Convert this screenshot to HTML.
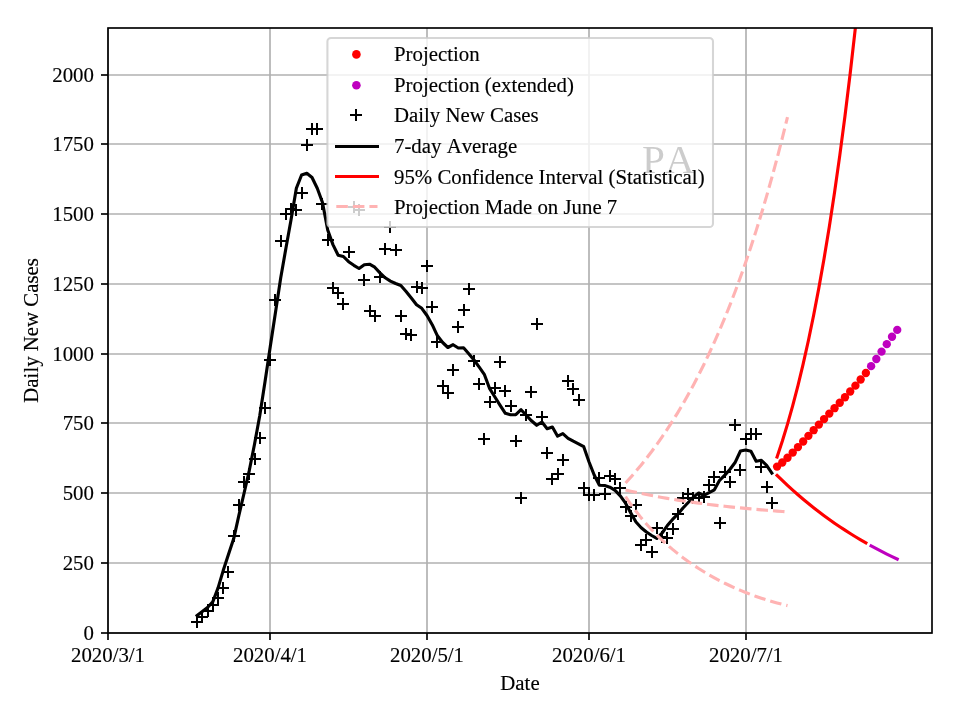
<!DOCTYPE html>
<html><head><meta charset="utf-8"><title>PA Daily New Cases</title>
<style>html,body{margin:0;padding:0;background:#fff;}svg{display:block;will-change:transform;}text{font-family:"Liberation Serif",serif;font-size:20.83px;fill:#000;stroke:#000;stroke-width:0.15px;font-kerning:none;font-variant-ligatures:none;}</style>
</head><body>
<svg width="960" height="720" viewBox="0 0 960 720">
<rect x="0" y="0" width="960" height="720" fill="#ffffff"/>
<defs><clipPath id="ax"><rect x="108.00" y="28.00" width="824.00" height="605.00"/></clipPath></defs>
<g stroke="#b0b0b0" stroke-width="1.67" fill="none">
<line x1="108.00" y1="28.00" x2="108.00" y2="633.00"/>
<line x1="270.00" y1="28.00" x2="270.00" y2="633.00"/>
<line x1="427.00" y1="28.00" x2="427.00" y2="633.00"/>
<line x1="589.00" y1="28.00" x2="589.00" y2="633.00"/>
<line x1="746.00" y1="28.00" x2="746.00" y2="633.00"/>
<line x1="108.00" y1="633.00" x2="932.00" y2="633.00"/>
<line x1="108.00" y1="563.00" x2="932.00" y2="563.00"/>
<line x1="108.00" y1="493.00" x2="932.00" y2="493.00"/>
<line x1="108.00" y1="423.00" x2="932.00" y2="423.00"/>
<line x1="108.00" y1="354.00" x2="932.00" y2="354.00"/>
<line x1="108.00" y1="284.00" x2="932.00" y2="284.00"/>
<line x1="108.00" y1="214.00" x2="932.00" y2="214.00"/>
<line x1="108.00" y1="144.00" x2="932.00" y2="144.00"/>
<line x1="108.00" y1="75.00" x2="932.00" y2="75.00"/>
</g>
<g clip-path="url(#ax)">
<!--PLOT-->
<circle cx="777.06" cy="466.59" r="4.17" fill="#ff0000"/>
<circle cx="782.28" cy="462.48" r="4.17" fill="#ff0000"/>
<circle cx="787.51" cy="457.75" r="4.17" fill="#ff0000"/>
<circle cx="792.73" cy="452.57" r="4.17" fill="#ff0000"/>
<circle cx="797.96" cy="447.11" r="4.17" fill="#ff0000"/>
<circle cx="803.18" cy="441.50" r="4.17" fill="#ff0000"/>
<circle cx="808.41" cy="435.84" r="4.17" fill="#ff0000"/>
<circle cx="813.63" cy="430.18" r="4.17" fill="#ff0000"/>
<circle cx="818.86" cy="424.59" r="4.17" fill="#ff0000"/>
<circle cx="824.08" cy="419.07" r="4.17" fill="#ff0000"/>
<circle cx="829.31" cy="413.62" r="4.17" fill="#ff0000"/>
<circle cx="834.53" cy="408.19" r="4.17" fill="#ff0000"/>
<circle cx="839.76" cy="402.75" r="4.17" fill="#ff0000"/>
<circle cx="844.98" cy="397.22" r="4.17" fill="#ff0000"/>
<circle cx="850.21" cy="391.54" r="4.17" fill="#ff0000"/>
<circle cx="855.43" cy="385.65" r="4.17" fill="#ff0000"/>
<circle cx="860.66" cy="379.48" r="4.17" fill="#ff0000"/>
<circle cx="865.88" cy="372.98" r="4.17" fill="#ff0000"/>
<circle cx="871.11" cy="366.15" r="4.17" fill="#bf00bf"/>
<circle cx="876.33" cy="359.01" r="4.17" fill="#bf00bf"/>
<circle cx="881.56" cy="351.62" r="4.17" fill="#bf00bf"/>
<circle cx="886.78" cy="344.14" r="4.17" fill="#bf00bf"/>
<circle cx="892.01" cy="336.78" r="4.17" fill="#bf00bf"/>
<circle cx="897.23" cy="329.88" r="4.17" fill="#bf00bf"/>
<path d="M191 622h12M197 616v12M196 617h12M202 611v12M202 611h12M208 605v12M207 605h12M213 599v12M212 598h12M218 592v12M217 588h12M223 582v12M222 572h12M228 566v12M228 536h12M234 530v12M233 505h12M239 499v12M238 482h12M244 476v12M243 474h12M249 468v12M249 459h12M255 453v12M254 438h12M260 432v12M259 408h12M265 402v12M264 360h12M270 354v12M269 300h12M275 294v12M275 241h12M281 235v12M280 214h12M286 208v12M285 209h12M291 203v12M290 210h12M296 204v12M296 193h12M302 187v12M301 145h12M307 139v12M306 129h12M312 123v12M311 129h12M317 123v12M316 204h12M322 198v12M322 240h12M328 234v12M327 288h12M333 282v12M332 293h12M338 287v12M337 304h12M343 298v12M343 252h12M349 246v12M348 207h12M354 201v12M353 210h12M359 204v12M358 280h12M364 274v12M364 311h12M370 305v12M369 316h12M375 310v12M374 277h12M380 271v12M379 249h12M385 243v12M384 227h12M390 221v12M390 250h12M396 244v12M395 316h12M401 310v12M400 334h12M406 328v12M405 335h12M411 329v12M411 287h12M417 281v12M416 288h12M422 282v12M421 266h12M427 260v12M426 307h12M432 301v12M431 342h12M437 336v12M437 386h12M443 380v12M442 393h12M448 387v12M447 370h12M453 364v12M452 327h12M458 321v12M458 310h12M464 304v12M463 289h12M469 283v12M468 361h12M474 355v12M473 384h12M479 378v12M478 439h12M484 433v12M484 402h12M490 396v12M489 388h12M495 382v12M494 362h12M500 356v12M499 391h12M505 385v12M505 406h12M511 400v12M510 441h12M516 435v12M515 498h12M521 492v12M520 415h12M526 409v12M525 392h12M531 386v12M531 324h12M537 318v12M536 417h12M542 411v12M541 453h12M547 447v12M546 479h12M552 473v12M552 474h12M558 468v12M557 460h12M563 454v12M562 381h12M568 375v12M567 389h12M573 383v12M573 400h12M579 394v12M578 488h12M584 482v12M583 495h12M589 489v12M588 495h12M594 489v12M593 478h12M599 472v12M599 494h12M605 488v12M604 476h12M610 470v12M609 479h12M615 473v12M614 488h12M620 482v12M620 507h12M626 501v12M625 516h12M631 510v12M630 505h12M636 499v12M635 545h12M641 539v12M640 540h12M646 534v12M646 552h12M652 546v12M651 528h12M657 522v12M656 537h12M662 531v12M661 538h12M667 532v12M667 529h12M673 523v12M672 514h12M678 508v12M677 498h12M683 492v12M682 494h12M688 488v12M687 498h12M693 492v12M693 498h12M699 492v12M698 497h12M704 491v12M703 485h12M709 479v12M708 477h12M714 471v12M714 523h12M720 517v12M719 472h12M725 466v12M724 482h12M730 476v12M729 425h12M735 419v12M734 470h12M740 464v12M740 439h12M746 433v12M745 434h12M751 428v12M750 434h12M756 428v12M755 467h12M761 461v12M761 487h12M767 481v12M766 503h12M772 497v12" stroke="#000" stroke-width="2" fill="none" shape-rendering="crispEdges"/>
<polyline points="197.08,615.50 202.31,611.50 207.53,607.50 212.76,601.90 217.99,588.10 223.21,570.60 228.44,554.40 233.66,538.80 238.88,515.30 244.11,493.00 249.33,470.30 254.56,444.00 259.78,415.50 265.01,381.70 270.24,346.70 275.46,312.50 280.69,278.00 285.91,248.30 291.13,219.20 296.36,188.30 301.58,175.00 306.81,173.20 312.03,177.50 317.26,188.30 322.49,202.50 327.71,230.00 332.94,244.60 338.16,255.20 343.38,256.50 348.61,261.70 353.83,265.30 359.06,268.50 364.28,264.70 369.51,264.20 374.73,267.20 379.96,272.90 385.18,277.80 390.41,281.10 395.63,283.50 400.86,285.50 406.08,291.50 411.31,298.00 416.53,304.70 421.76,308.30 426.98,315.50 432.21,324.70 437.43,335.80 442.66,342.50 447.88,347.50 453.11,344.70 458.33,348.00 463.56,347.70 468.78,353.70 474.01,360.00 479.23,367.20 484.46,374.70 489.68,388.70 494.91,397.00 500.13,405.30 505.36,413.30 510.58,414.70 515.81,414.70 521.03,409.70 526.26,415.30 531.49,420.80 536.71,425.30 541.93,422.00 547.16,428.70 552.38,427.00 557.61,436.20 562.84,433.70 568.06,438.30 573.28,441.20 578.51,443.80 583.74,446.70 588.96,461.70 594.18,475.00 599.41,485.30 604.63,485.50 609.86,487.20 615.09,490.30 620.31,495.80 625.53,503.20 630.76,512.90 635.98,522.00 641.21,527.70 646.43,532.00 651.66,535.50 656.88,538.40 662.11,533.00 667.33,525.60 672.56,519.40 677.78,514.20 683.01,508.00 688.23,502.50 693.46,497.00 698.68,493.00 703.91,495.40 709.13,492.70 714.36,489.80 719.58,480.30 724.81,475.20 730.03,469.20 735.26,462.20 740.48,451.00 745.71,450.00 750.93,451.30 756.16,461.30 761.38,460.30 766.61,465.30 771.83,473.00" stroke="#000" stroke-width="3.125" fill="none" stroke-linejoin="round" stroke-linecap="square"/>
<polyline points="777.06,457.02 782.28,441.23 787.51,424.12 792.73,405.60 797.96,385.56 803.18,363.90 808.41,340.49 813.63,315.20 818.86,287.91 824.08,258.46 829.31,226.71 834.53,192.49 839.76,155.64 844.98,115.96 850.21,73.28 855.43,27.39 860.66,-21.93 865.88,-74.90" stroke="#ff0000" stroke-width="3.125" fill="none" stroke-linejoin="round" stroke-linecap="square"/>
<polyline points="777.06,475.41 782.28,480.48 787.51,485.39 792.73,490.15 797.96,494.75 803.18,499.21 808.41,503.53 813.63,507.71 818.86,511.76 824.08,515.68 829.31,519.48 834.53,523.16 839.76,526.71 844.98,530.16 850.21,533.50 855.43,536.72 860.66,539.85 865.88,542.88" stroke="#ff0000" stroke-width="3.125" fill="none" stroke-linejoin="round" stroke-linecap="square"/>
<polyline points="871.11,545.81 876.33,548.64 881.56,551.39 886.78,554.05 892.01,556.62 897.23,559.11" stroke="#bf00bf" stroke-width="3.125" fill="none" stroke-linejoin="round" stroke-linecap="square"/>
<polyline points="625.53,483.04 630.76,477.24 635.98,471.20 641.21,464.89 646.43,458.32 651.66,451.48 656.88,444.33 662.11,436.89 667.33,429.12 672.56,421.02 677.78,412.56 683.01,403.75 688.23,394.54 693.46,384.94 698.68,374.92 703.91,364.46 709.13,353.54 714.36,342.13 719.58,330.23 724.81,317.80 730.03,304.81 735.26,291.25 740.48,277.08 745.71,262.28 750.93,246.81 756.16,230.64 761.38,213.75 766.61,196.09 771.83,177.63 777.06,158.33 782.28,138.15 787.51,117.05" stroke="#ffb3b3" stroke-width="3.125" fill="none" stroke-linejoin="round" stroke-dasharray="11.56 5"/>
<polyline points="625.53,489.95 630.76,491.16 635.98,492.33 641.21,493.44 646.43,494.51 651.66,495.54 656.88,496.53 662.11,497.48 667.33,498.39 672.56,499.26 677.78,500.10 683.01,500.90 688.23,501.67 693.46,502.42 698.68,503.13 703.91,503.81 709.13,504.47 714.36,505.10 719.58,505.71 724.81,506.29 730.03,506.85 735.26,507.40 740.48,507.92 745.71,508.42 750.93,508.90 756.16,509.37 761.38,509.82 766.61,510.26 771.83,510.68 777.06,511.09 782.28,511.49 787.51,511.88" stroke="#ffb3b3" stroke-width="3.125" fill="none" stroke-linejoin="round" stroke-dasharray="11.56 5"/>
<polyline points="625.53,496.64 630.76,504.26 635.98,511.31 641.21,517.88 646.43,523.99 651.66,529.72 656.88,535.09 662.11,540.13 667.33,544.89 672.56,549.38 677.78,553.63 683.01,557.65 688.23,561.46 693.46,565.08 698.68,568.51 703.91,571.77 709.13,574.87 714.36,577.81 719.58,580.60 724.81,583.26 730.03,585.77 735.26,588.15 740.48,590.41 745.71,592.54 750.93,594.56 756.16,596.46 761.38,598.24 766.61,599.92 771.83,601.50 777.06,602.97 782.28,604.35 787.51,605.63" stroke="#ffb3b3" stroke-width="3.125" fill="none" stroke-linejoin="round" stroke-dasharray="11.56 5"/>
</g>
<g stroke="#000" stroke-width="1.67" fill="none">
<line x1="108.00" y1="633.00" x2="108.00" y2="640.00"/>
<line x1="270.00" y1="633.00" x2="270.00" y2="640.00"/>
<line x1="427.00" y1="633.00" x2="427.00" y2="640.00"/>
<line x1="589.00" y1="633.00" x2="589.00" y2="640.00"/>
<line x1="746.00" y1="633.00" x2="746.00" y2="640.00"/>
<line x1="101.00" y1="633.00" x2="108.00" y2="633.00"/>
<line x1="101.00" y1="563.00" x2="108.00" y2="563.00"/>
<line x1="101.00" y1="493.00" x2="108.00" y2="493.00"/>
<line x1="101.00" y1="423.00" x2="108.00" y2="423.00"/>
<line x1="101.00" y1="354.00" x2="108.00" y2="354.00"/>
<line x1="101.00" y1="284.00" x2="108.00" y2="284.00"/>
<line x1="101.00" y1="214.00" x2="108.00" y2="214.00"/>
<line x1="101.00" y1="144.00" x2="108.00" y2="144.00"/>
<line x1="101.00" y1="75.00" x2="108.00" y2="75.00"/>
</g>
<rect x="108.00" y="28.00" width="824.00" height="605.00" fill="none" stroke="#000" stroke-width="1.67" stroke-linejoin="miter"/>
<text x="108.00" y="662.3" text-anchor="middle">2020/3/1</text>
<text x="270.00" y="662.3" text-anchor="middle">2020/4/1</text>
<text x="427.00" y="662.3" text-anchor="middle">2020/5/1</text>
<text x="589.00" y="662.3" text-anchor="middle">2020/6/1</text>
<text x="746.00" y="662.3" text-anchor="middle">2020/7/1</text>
<text x="93.9" y="640.20" text-anchor="end">0</text>
<text x="93.9" y="570.20" text-anchor="end">250</text>
<text x="93.9" y="500.20" text-anchor="end">500</text>
<text x="93.9" y="430.20" text-anchor="end">750</text>
<text x="93.9" y="361.20" text-anchor="end">1000</text>
<text x="93.9" y="291.20" text-anchor="end">1250</text>
<text x="93.9" y="221.20" text-anchor="end">1500</text>
<text x="93.9" y="151.20" text-anchor="end">1750</text>
<text x="93.9" y="82.20" text-anchor="end">2000</text>
<text x="520" y="689.8" text-anchor="middle">Date</text>
<text transform="translate(38,330.4) rotate(-90)" text-anchor="middle">Daily New Cases</text>
<text transform="translate(642.05,173) scale(1.045,1)" style="font-size:39.5px;fill:#000;stroke:none">PA</text>
<rect x="327.40" y="38.00" width="385.60" height="189.00" rx="3.6" ry="3.6" fill="#ffffff" fill-opacity="0.8" stroke="#cccccc" stroke-opacity="0.8" stroke-width="2.08"/>
<circle cx="356.40" cy="54.40" r="4.3" fill="#ff0000"/>
<circle cx="356.40" cy="85.25" r="4.3" fill="#bf00bf"/>
<path d="M350 115h12M356 109v12" stroke="#000" stroke-width="2" fill="none" shape-rendering="crispEdges"/>
<line x1="335" x2="379" y1="146.5" y2="146.5" stroke="#000" stroke-width="3"/>
<line x1="335" x2="379" y1="176.5" y2="176.5" stroke="#ff0000" stroke-width="3"/>
<line x1="336.3" x2="377.5" y1="206.5" y2="206.5" stroke="#ffb3b3" stroke-width="3" stroke-dasharray="11.56 5"/>
<text x="394.0" y="61.30">Projection</text>
<text x="394.0" y="91.85">Projection (extended)</text>
<text x="394.0" y="122.40">Daily New Cases</text>
<text x="394.0" y="152.95">7-day Average</text>
<text x="394.0" y="183.50">95% Confidence Interval (Statistical)</text>
<text x="394.0" y="214.05">Projection Made on June 7</text>
</svg>
</body></html>
